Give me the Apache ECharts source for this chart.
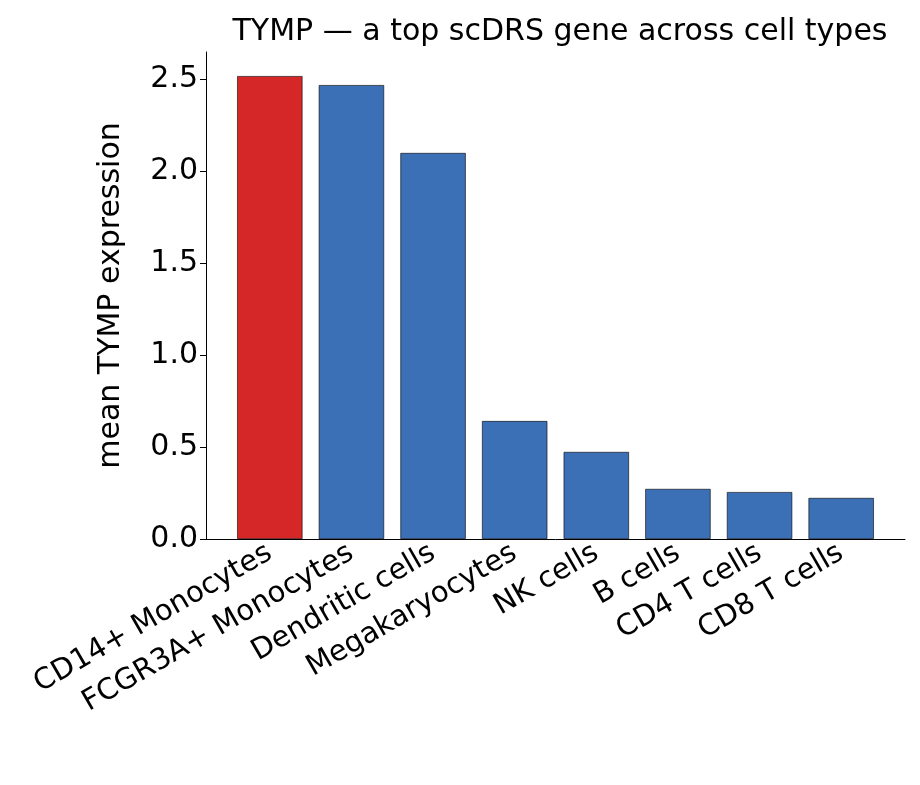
<!DOCTYPE html>
<html>
<head>
<meta charset="utf-8">
<script src="https://cdn.jsdelivr.net/npm/echarts@6/dist/echarts.min.js"></script>
<style>body{margin:0;background:#fff}</style>
</head>
<body>
<div id="main" style="width:920px;height:785px;"></div>
<script type="text/javascript">
	var myChart = echarts.init(document.getElementById('main'));
	var cells = ['CD14+ Monocytes','FCGR3A+ Monocytes','Dendritic cells','Megakaryocytes','NK cells','B cells','CD4 T cells','CD8 T cells'];
	var values = [2.516, 2.467, 2.098, 0.641, 0.473, 0.272, 0.255, 0.223];
	var font = 'DejaVu Sans';
	var option = {
		title: {
			text: 'TYMP — a top scDRS gene across cell types',
			left: 555, top: 12, textAlign: 'center',
			textStyle: {fontFamily: font, fontSize: 30, fontWeight: 'normal', color: '#000'}
		},
		grid: [
			{left: 229, right: 38, top: 52, bottom: 246},
			{left: 206, right: 15, top: 52, bottom: 246}
		],
		xAxis: [
			{
				type: 'category', gridIndex: 0, data: cells,
				axisLine: {show: false},
				axisTick: {alignWithLabel: true, length: 6, lineStyle: {color: '#000'}},
				axisLabel: {rotate: 30, fontFamily: font, fontSize: 29, color: '#000', margin: 12, interval: 0}
			},
			{
				type: 'value', gridIndex: 1, min: 0, max: 1,
				axisLine: {show: true, lineStyle: {color: '#000'}},
				axisTick: {show: false}, axisLabel: {show: false}, splitLine: {show: false}
			}
		],
		yAxis: [
			{type: 'value', gridIndex: 0, min: 0, max: 2.647, show: false},
			{
				type: 'value', gridIndex: 1, min: 0, max: 2.647, interval: 0.5,
				name: 'mean TYMP expression', nameLocation: 'middle', nameGap: 80,
				nameTextStyle: {fontFamily: font, fontSize: 30, color: '#000'},
				axisLine: {show: true, lineStyle: {color: '#000'}},
				axisTick: {show: true, length: 6, lineStyle: {color: '#000'}},
				axisLabel: {fontFamily: font, fontSize: 30, color: '#000', showMaxLabel: false,
					formatter: function (v) { return v.toFixed(1); }},
				splitLine: {show: false}
			}
		],
		series: [{
			type: 'bar', xAxisIndex: 0, yAxisIndex: 0, barWidth: '80%',
			data: values.map(function (v, i) {
				return {value: v, itemStyle: {color: i === 0 ? '#d62728' : '#3b6fb6'}};
			}),
			itemStyle: {borderColor: '#000', borderWidth: 0.6}
		}]
	};
	myChart.setOption(option);
</script>
</body>
</html>
